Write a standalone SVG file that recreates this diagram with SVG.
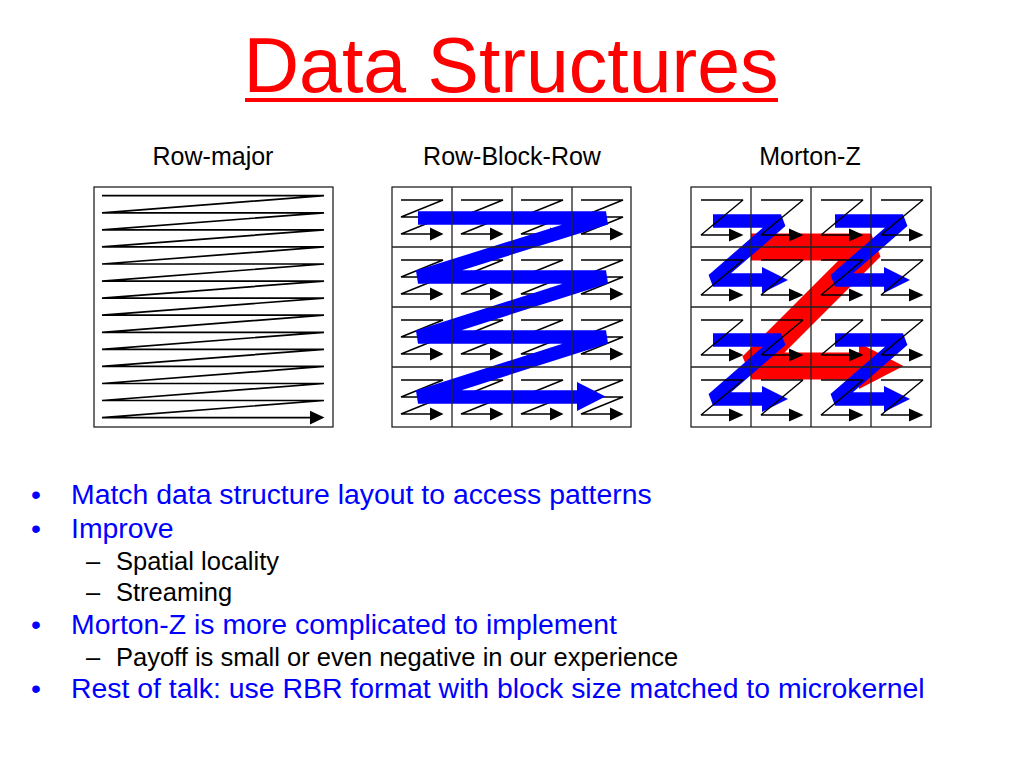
<svg xmlns="http://www.w3.org/2000/svg" xmlns:xlink="http://www.w3.org/1999/xlink" width="1024" height="768" viewBox="0 0 1024 768">
<style>
.t{font-family:"Liberation Sans",Arial,sans-serif}
.thin{fill:none;stroke:#000;stroke-width:1.4;stroke-linejoin:bevel}
.rm{stroke-width:1.7}
.head{fill:#000;stroke:none}
.grid{fill:none;stroke:#222;stroke-width:1.3}
.blue{fill:none;stroke:#0000FF;stroke-width:13.5;stroke-linejoin:bevel;stroke-linecap:butt}
.red{fill:none;stroke:#FF0000;stroke-width:27;stroke-linejoin:bevel;stroke-linecap:butt}
.bh{fill:#0000FF}
.rh{fill:#FF0000}
.lbl{font-size:25px;fill:#000}
.b1{font-size:28.4px;fill:#0000FF}
.b2{font-size:25.5px;fill:#000}
</style>
<defs>
<g id="rbrZ">
<polyline class="thin" points="9,13 51,13 9,30 51,30 9,47 40,47"/>
<polygon class="head" points="38,40.5 51.5,47 38,53.5"/>
</g>
<g id="mzZ">
<polyline class="thin" points="10,13 52,13 10,48 40,48"/>
<polygon class="head" points="38,41.5 52.5,48 38,54.5"/>
</g>
<g id="blueZ">
<polyline class="blue" points="22,34 90,34 22,93 72,93"/>
<polygon class="bh" points="71,80 97,93 71,106"/>
</g>
</defs>
<rect width="1024" height="768" fill="#fff"/>

<g id="title">
<text class="t" x="511" y="92" text-anchor="middle" font-size="77" fill="#FF0000">Data Structures</text>
<rect x="245" y="98" width="533" height="4" fill="#FF0000"/>
</g>

<g id="labels">
<text class="t lbl" x="213" y="165" text-anchor="middle">Row-major</text>
<text class="t lbl" x="512" y="165" text-anchor="middle">Row-Block-Row</text>
<text class="t lbl" x="810" y="165" text-anchor="middle">Morton-Z</text>
</g>

<g id="row-major">
<rect class="grid" x="94" y="187" width="239" height="240"/>
<polyline class="thin rm" points="102,195.7 324,195.7 102,212.8 324,212.8 102,229.8 324,229.8 102,246.9 324,246.9 102,264 324,264 102,281.1 324,281.1 102,298.1 324,298.1 102,315.2 324,315.2 102,332.3 324,332.3 102,349.3 324,349.3 102,366.4 324,366.4 102,383.5 324,383.5 102,400.5 324,400.5 102,417.6 312,417.6"/>
<polygon class="head" points="310,410.8 324.5,417.6 310,424.4"/>
</g>

<g id="row-block-row">
<use xlink:href="#rbrZ" x="392" y="187"/><use xlink:href="#rbrZ" x="452" y="187"/><use xlink:href="#rbrZ" x="512" y="187"/><use xlink:href="#rbrZ" x="572" y="187"/>
<use xlink:href="#rbrZ" x="392" y="247"/><use xlink:href="#rbrZ" x="452" y="247"/><use xlink:href="#rbrZ" x="512" y="247"/><use xlink:href="#rbrZ" x="572" y="247"/>
<use xlink:href="#rbrZ" x="392" y="307"/><use xlink:href="#rbrZ" x="452" y="307"/><use xlink:href="#rbrZ" x="512" y="307"/><use xlink:href="#rbrZ" x="572" y="307"/>
<use xlink:href="#rbrZ" x="392" y="367"/><use xlink:href="#rbrZ" x="452" y="367"/><use xlink:href="#rbrZ" x="512" y="367"/><use xlink:href="#rbrZ" x="572" y="367"/>
<polyline class="blue" points="418,218 606,218 418,277 606,277 418,337 606,337 418,397 580,397"/>
<polygon class="bh" points="577,382 605.5,396.5 577,411"/>
<rect class="grid" x="392" y="187" width="239" height="240"/>
<path class="grid" d="M452,187V427M512,187V427M572,187V427M392,247H631M392,307H631M392,367H631"/>
</g>

<g id="morton-z">
<polyline class="red" points="751,247 871,247 752,366 862,366"/>
<polygon class="rh" points="859,343 903.5,366 859,389"/>
<use xlink:href="#blueZ" x="691" y="187"/>
<use xlink:href="#blueZ" x="813" y="187"/>
<use xlink:href="#blueZ" x="691" y="306"/>
<use xlink:href="#blueZ" x="813" y="306"/>
<use xlink:href="#mzZ" x="691" y="187"/><use xlink:href="#mzZ" x="751" y="187"/><use xlink:href="#mzZ" x="811" y="187"/><use xlink:href="#mzZ" x="871" y="187"/>
<use xlink:href="#mzZ" x="691" y="247"/><use xlink:href="#mzZ" x="751" y="247"/><use xlink:href="#mzZ" x="811" y="247"/><use xlink:href="#mzZ" x="871" y="247"/>
<use xlink:href="#mzZ" x="691" y="307"/><use xlink:href="#mzZ" x="751" y="307"/><use xlink:href="#mzZ" x="811" y="307"/><use xlink:href="#mzZ" x="871" y="307"/>
<use xlink:href="#mzZ" x="691" y="367"/><use xlink:href="#mzZ" x="751" y="367"/><use xlink:href="#mzZ" x="811" y="367"/><use xlink:href="#mzZ" x="871" y="367"/>
<rect class="grid" x="691" y="187" width="240" height="240"/>
<path class="grid" d="M751,187V427M811,187V427M871,187V427M691,247H931M691,307H931M691,367H931"/>
</g>

<g id="bullets">
<text class="t b1" x="31" y="504">•</text>
<text class="t b1" x="71" y="504">Match data structure layout to access patterns</text>
<text class="t b1" x="31" y="538">•</text>
<text class="t b1" x="71" y="538">Improve</text>
<text class="t b2" x="86" y="570">–</text>
<text class="t b2" x="116" y="570">Spatial locality</text>
<text class="t b2" x="86" y="601">–</text>
<text class="t b2" x="116" y="601">Streaming</text>
<text class="t b1" x="31" y="634">•</text>
<text class="t b1" x="71" y="634">Morton-Z is more complicated to implement</text>
<text class="t b2" x="86" y="666">–</text>
<text class="t b2" x="116" y="666">Payoff is small or even negative in our experience</text>
<text class="t b1" x="31" y="698">•</text>
<text class="t b1" x="71" y="698">Rest of talk: use RBR format with block size matched to microkernel</text>
</g>
</svg>
